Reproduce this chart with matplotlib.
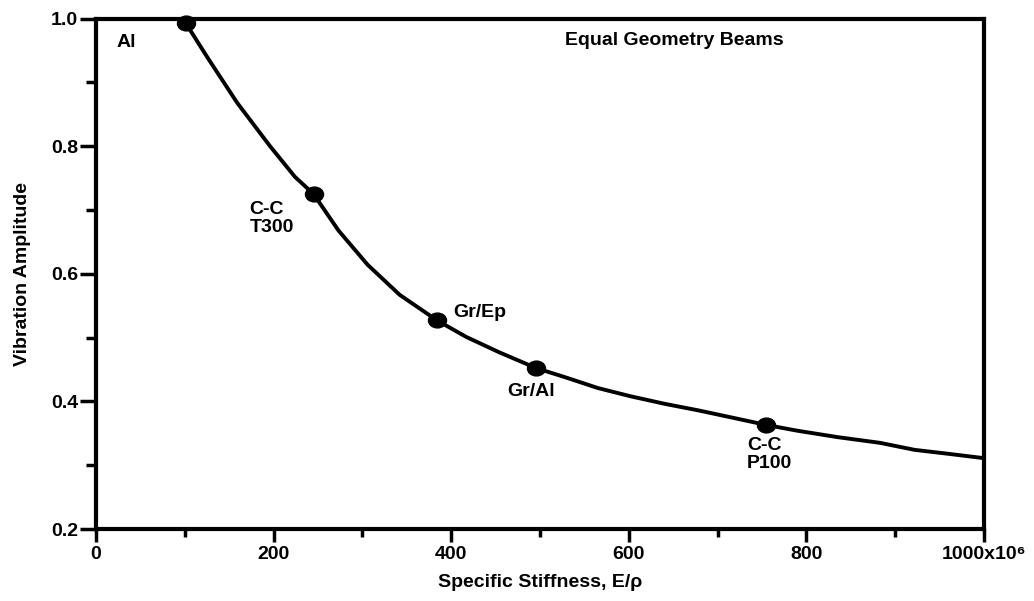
import matplotlib
matplotlib.use("Agg")
import matplotlib.pyplot as plt
from matplotlib.path import Path
from matplotlib.ticker import FixedLocator

plt.rcParams['font.family'] = ['Liberation Sans', 'DejaVu Sans']

# curve
curve_x = [101, 126, 159, 196, 224, 245, 273, 306, 342, 384, 417, 454, 496,
           528, 565, 602, 641, 678, 715, 755, 790, 835, 883, 922, 959, 1000]
curve_y = [0.993, 0.938, 0.868, 0.800, 0.752, 0.725, 0.668, 0.614, 0.567, 0.527, 0.501, 0.477, 0.452,
           0.438, 0.421, 0.408, 0.396, 0.386, 0.375, 0.363, 0.354, 0.344, 0.335, 0.324, 0.318, 0.311]

# materials
materials = ["Al", "C-C\nT300", "Gr/Ep", "Gr/Al", "C-C\nP100"]
mat_x = [101, 245, 384, 496, 755]
mat_y = [0.993, 0.725, 0.527, 0.452, 0.363]

xticks = [0, 200, 400, 600, 800, 1000]
xticklabels = ["0", "200", "400", "600", "800", "1000x10\u2076"]
xminor = [100, 300, 500, 700, 900]
yticks = [0.2, 0.4, 0.6, 0.8, 1.0]
yticklabels = ["0.2", "0.4", "0.6", "0.8", "1.0"]
yminor = [0.3, 0.5, 0.7, 0.9]

fs = 14

fig = plt.figure(figsize=(10.34, 6.01), dpi=100)
ax = fig.add_axes([0.0928, 0.1198, 0.8588, 0.8494])

circ = Path.unit_circle()
ellipse = Path(circ.vertices * [1.0, 0.82], circ.codes)

ax.plot(curve_x, curve_y, color='black', lw=2.8, solid_capstyle='round',
        solid_joinstyle='round', clip_on=False, zorder=3)
ax.plot(mat_x, mat_y, linestyle='none', marker=ellipse, color='black', ms=13,
        clip_on=False, zorder=4)

ax.set_xlim(0, 1000)
ax.set_ylim(0.2, 1.0)

ax.set_xticks(xticks)
ax.set_xticklabels(xticklabels)
ax.set_yticks(yticks)
ax.set_yticklabels(yticklabels)
ax.xaxis.set_minor_locator(FixedLocator(xminor))
ax.yaxis.set_minor_locator(FixedLocator(yminor))

ax.tick_params(axis='x', which='major', direction='out', length=9, width=2.5, labelsize=fs, pad=3)
ax.tick_params(axis='x', which='minor', direction='out', length=6, width=2.5)
ax.tick_params(axis='y', which='major', direction='out', length=11.5, width=2.5, labelsize=fs, pad=1.5)
ax.tick_params(axis='y', which='minor', direction='out', length=7, width=2.5)
for lab in ax.get_xticklabels() + ax.get_yticklabels():
    lab.set_fontweight('bold')
for s in ax.spines.values():
    s.set_linewidth(3)

ax.set_xlabel("Specific Stiffness, E/ρ", fontsize=fs, fontweight='bold', labelpad=8)
ax.set_ylabel("Vibration Amplitude", fontsize=fs, fontweight='bold', labelpad=14)

ax.text(23.6, 0.963, materials[0], fontsize=fs, fontweight='bold', ha='left', va='center')
ax.text(173, 0.687, materials[1], fontsize=fs, fontweight='bold', ha='left', va='center', linespacing=1.05)
ax.text(402, 0.540, materials[2], fontsize=fs, fontweight='bold', ha='left', va='center')
ax.text(463, 0.416, materials[3], fontsize=fs, fontweight='bold', ha='left', va='center')
ax.text(733, 0.317, materials[4], fontsize=fs, fontweight='bold', ha='left', va='center', linespacing=1.05)
ax.text(528, 0.965, "Equal Geometry Beams", fontsize=fs, fontweight='bold', ha='left', va='center')

fig.savefig("out.png", dpi=100)
